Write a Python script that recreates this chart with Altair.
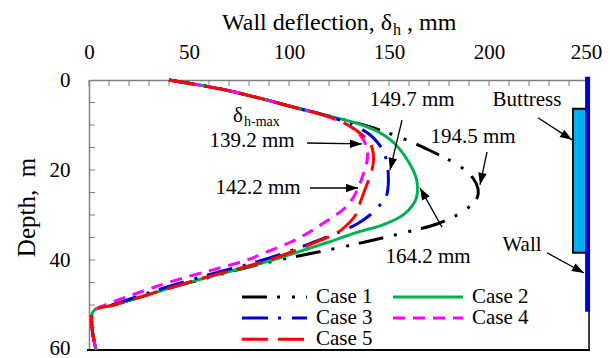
import math
import altair as alt
import pandas as pd

# ---------------- data ----------------
cases = ["Case 1", "Case 2", "Case 3", "Case 4", "Case 5"]
colors = ["#000000", "#00B050", "#0000CC", "#FF00FF", "#FF0000"]
dash_patterns = [[25, 10, 3, 12, 3, 11], [1, 0], [26, 10, 3, 11], [12, 8], [26, 10]]

depth = [0, 2, 4, 6, 8, 10, 12, 14, 16, 18, 20, 22, 24, 26, 28, 30,
         32, 34, 36, 38, 40, 42, 44, 46, 48, 50, 51.5, 60]
case1 = [40, 66, 85, 102, 120, 137.5, 151, 162.5, 172, 181, 188, 192.3, 194.4, 194.2,
         190.5, 184, 174, 157, 138, 117, 95, 76, 59, 42, 27.5, 12.5, 2, 3.5]
case2 = [40, 66, 85, 102, 120, 136.5, 146.5, 152.5, 156.5, 159.5, 162, 163.7, 164.2, 163.8,
         161.5, 157, 148, 133, 120, 106, 92, 75, 58, 42, 27.5, 12.5, 2, 3.5]
case3 = [40, 66, 85, 102, 119, 132, 140, 144.5, 147.3, 148.8, 149.5, 149.7, 149.5, 148.5,
         145, 140.5, 134, 124, 112.5, 100.5, 87, 70.5, 54, 39, 25, 11.5, 2, 3.5]
case4 = [40, 66, 85, 102, 118.5, 129.5, 135, 138, 139.2, 139, 137.8, 136.3, 134.5, 132.3,
         129, 123.5, 116.5, 109.5, 101, 90, 79, 63.5, 47, 33, 20, 8, 2, 3.5]
case5 = [40, 66, 85, 102, 119, 129.5, 136, 140.5, 142, 142.2, 141.5, 140, 138.3, 136.6,
         135, 133.3, 129.5, 124, 113.5, 102.5, 90, 74, 57, 42, 27.5, 12.5, 2, 3.5]
series = [case1, case2, case3, case4, case5]

x_major = [0, 50, 100, 150, 200, 250]
y_major = [0, 20, 40, 60]
x_minor = list(range(0, 251, 10))
y_minor = list(range(5, 60, 5))

ann_text = ["139.2 mm", "142.2 mm", "149.7 mm", "194.5 mm", "164.2 mm", "Buttress", "Wall"]
ann_tx = [81.5, 84.5, 161.5, 192, 169.5, 219, 216.5]
ann_ty = [13.6, 24, 4.4, 12.7, 39.3, 4.4, 36.7]
arr_x1 = [109, 110.5, 156.5, 199, 176.5, 224.5, 229]
arr_y1 = [14, 24, 8.9, 16, 32.7, 8.4, 38.4]
arr_x2 = [136.5, 134.5, 150.5, 195.5, 165.5, 241.5, 247.5]
arr_y2 = [14.2, 24, 20, 23.3, 24, 13.3, 42.9]

# ---------------- layout constants ----------------
W, H = 500, 270
XMAX, YMAX = 250, 60
FONT = "Liberation Serif"
FS = 21
TFS = 24
kx, ky = W / XMAX, H / YMAX

leg_x1 = [76.5, 152, 76.5, 152, 76.5]
leg_x2 = [109, 187, 109, 187, 109]
leg_y = [48.2, 48.2, 52.9, 52.9, 57.6]

# ---------------- tables ----------------
rows = []
for c, vals in zip(cases, series):
    for d, v in zip(depth, vals):
        rows.append({"case": c, "x": v, "y": d})
curves = pd.DataFrame(rows)

legend_df = pd.DataFrame({"case": cases, "x": leg_x1, "x2": leg_x2, "y": leg_y,
                          "tx": [v + 4.5 for v in leg_x2]})

ann_df = pd.DataFrame({"text": ann_text, "x": ann_tx, "y": ann_ty})
angles = []
for a, b, c2, d2 in zip(arr_x1, arr_y1, arr_x2, arr_y2):
    dx = (c2 - a) * kx
    dy = (d2 - b) * ky
    angles.append((math.degrees(math.atan2(dx, -dy)) + 360) % 360)
arr_df = pd.DataFrame({"x": arr_x1, "y": arr_y1, "x2": arr_x2, "y2": arr_y2, "ang": angles})

xscale = alt.Scale(domain=[0, XMAX], nice=False, zero=False)
yscale = alt.Scale(domain=[0, YMAX], nice=False, zero=False, reverse=True)
xaxis = alt.Axis(orient="top", values=x_major, title=None, ticks=False, grid=False,
                 labelFont=FONT, labelFontSize=FS, labelColor="black", labelPadding=18,
                 labelOffset={"condition": {"test": "datum.value == 250", "value": -3}, "value": 0},
                 domainColor="#808080", domainWidth=1.5, labelFlush=False)
yaxis = alt.Axis(orient="left", values=y_major, title="Depth,\u00a0 m", ticks=False, grid=False,
                 labelFont=FONT, labelFontSize=FS, labelColor="black", labelPadding=19,
                 labelOffset={"condition": {"test": "datum.value == 60", "value": -2}, "value": 0},
                 domainColor="#808080", domainWidth=1.5, titleFont=FONT, titleFontSize=25,
                 titleFontWeight="normal", titleColor="black", titleX=-63, titleY=127,
                 titleBaseline="middle", labelFlush=False)


def X(f="x"):
    return alt.X(f"{f}:Q", scale=xscale, axis=xaxis)


def Y(f="y"):
    return alt.Y(f"{f}:Q", scale=yscale, axis=yaxis)


color_enc = alt.Color("case:N", scale=alt.Scale(domain=cases, range=colors), legend=None)
dash_enc = alt.StrokeDash("case:N", scale=alt.Scale(domain=cases, range=dash_patterns), legend=None)

lines = alt.Chart(curves).mark_line(interpolate="catmull-rom", strokeWidth=3, strokeCap="butt").encode(
    x=X(), y=Y(), color=color_enc, strokeDash=dash_enc, order=alt.Order("y:Q"))

# frame pieces & inner ticks
top_ticks = alt.Chart(pd.DataFrame({"x": x_minor})).mark_rule(color="#808080", strokeWidth=1).encode(
    x=X(), y=alt.value(0), y2=alt.value(6))
left_ticks = alt.Chart(pd.DataFrame({"y": y_minor})).mark_rule(color="#808080", strokeWidth=1).encode(
    y=Y(), x=alt.value(0), x2=alt.value(6))
right_frame = alt.Chart(pd.DataFrame({"x": [XMAX]})).mark_rule(color="black", strokeWidth=1.5).encode(
    x=X(), y=alt.value(0), y2=alt.value(H))
bottom_frame = alt.Chart(pd.DataFrame({"y": [YMAX]})).mark_rule(color="black", strokeWidth=2).encode(
    y=Y(), x=alt.value(-2), x2=alt.value(W + 1))

buttress = alt.Chart(pd.DataFrame({"x": [242], "x2": [248.5], "y": [6.4], "y2": [38.4]})).mark_rect(
    fill="#00B0F0", stroke="black", strokeWidth=2).encode(
    x=X(), x2="x2:Q", y=Y(), y2="y2:Q")
wall = alt.Chart(pd.DataFrame({"x": [249.3], "y": [-0.7], "y2": [51.5]})).mark_rule(
    color="#0000CC", strokeWidth=5).encode(x=X(), y=Y(), y2="y2:Q")

# manual legend
leg_lines = alt.Chart(legend_df).mark_rule(strokeWidth=3, strokeCap="butt").encode(
    x=X(), x2="x2:Q", y=Y(), color=color_enc, strokeDash=dash_enc)
leg_text = alt.Chart(legend_df).mark_text(font=FONT, fontSize=FS, align="left", baseline="middle",
                                          color="black").encode(
    x=X("tx"), y=Y(), text="case:N")

# annotations
ann = alt.Chart(ann_df).mark_text(font=FONT, fontSize=FS, align="center", baseline="middle",
                                  color="black").encode(x=X(), y=Y(), text="text:N")
arr_lines = alt.Chart(arr_df).mark_rule(color="black", strokeWidth=1.3).encode(
    x=X(), y=Y(), x2="x2:Q", y2="y2:Q")
arr_heads = alt.Chart(arr_df).mark_point(shape="M0,0L-0.36,1L0.36,1Z", filled=True, size=576,
                                         color="black", opacity=1, strokeWidth=0).encode(
    x=X("x2"), y=Y("y2"), angle=alt.Angle("ang:Q", scale=None))

dmax = alt.Chart(pd.DataFrame({"x": [77], "y": [7.9], "t": ["\u03b4"]})).mark_text(
    font=FONT, fontSize=FS, align="right", baseline="middle", color="black").encode(
    x=X(), y=Y(), text="t:N")
dmax_sub = alt.Chart(pd.DataFrame({"x": [77.5], "y": [9.4], "t": ["h-max"]})).mark_text(
    font=FONT, fontSize=14, align="left", baseline="middle", color="black").encode(
    x=X(), y=Y(), text="t:N")

# top title with subscript
t1 = alt.Chart(pd.DataFrame({"t": ["Wall deflection, \u03b4"]})).mark_text(
    font=FONT, fontSize=TFS, align="right", baseline="middle", color="black").encode(
    x=alt.value(303), y=alt.value(-57), text="t:N")
t2 = alt.Chart(pd.DataFrame({"t": ["h"]})).mark_text(
    font=FONT, fontSize=16, align="left", baseline="middle", color="black").encode(
    x=alt.value(304), y=alt.value(-50), text="t:N")
t3 = alt.Chart(pd.DataFrame({"t": [", mm"]})).mark_text(
    font=FONT, fontSize=TFS, align="left", baseline="middle", color="black").encode(
    x=alt.value(318), y=alt.value(-57), text="t:N")

chart = alt.layer(
    top_ticks, left_ticks, buttress, right_frame, wall, bottom_frame, lines,
    leg_lines, leg_text, arr_lines, arr_heads, ann, dmax, dmax_sub, t1, t2, t3
).properties(
    width=W, height=H,
    autosize=alt.AutoSizeParams(type="none"),
    padding={"left": 81, "top": 72, "right": 13, "bottom": 8},
).configure_view(stroke=None).configure(background="white")

chart.save("out.html", embed_options={"renderer": "svg", "actions": False})
